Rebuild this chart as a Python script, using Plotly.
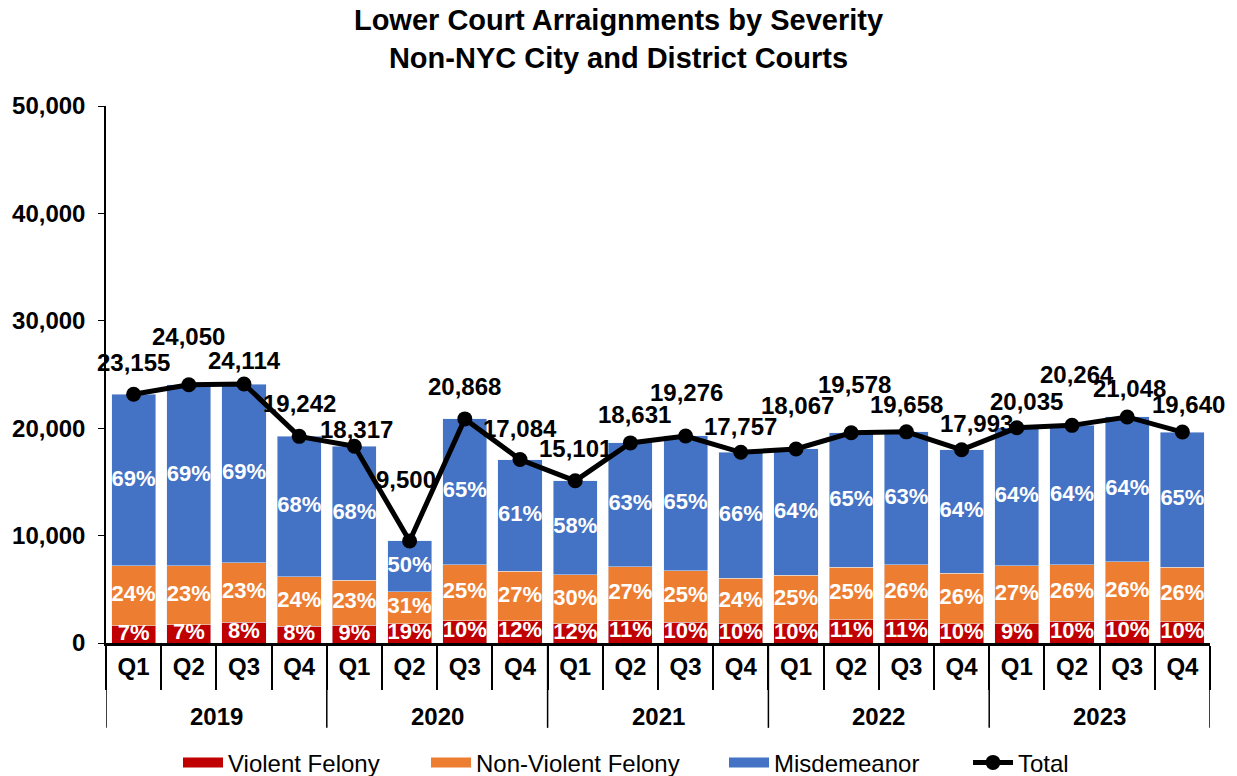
import plotly.graph_objects as go

# ---------------- data ----------------
years = ["2019"] * 4 + ["2020"] * 4 + ["2021"] * 4 + ["2022"] * 4 + ["2023"] * 4
quarters = ["Q1", "Q2", "Q3", "Q4"] * 5
totals = [23155, 24050, 24114, 19242, 18317, 9500, 20868, 17084,
          15101, 18631, 19276, 17757, 18067, 19578, 19658, 17993,
          20035, 20264, 21048, 19640]
violent_pct = [7, 7, 8, 8, 9, 19, 10, 12, 12, 11, 10, 10, 10, 11, 11, 10, 9, 10, 10, 10]
nonviolent_pct = [24, 23, 23, 24, 23, 31, 25, 27, 30, 27, 25, 24, 25, 25, 26, 26, 27, 26, 26, 26]
misd_pct = [69, 69, 69, 68, 68, 50, 65, 61, 58, 63, 65, 66, 64, 65, 63, 64, 64, 64, 64, 65]

# label placement (pixel offsets of the total labels, style only)
label_dx = [0, 0, 0, 0, 2, -4, 0, 0, 0, 4, 1, 0, 1, 3, 0, 15, 10, 5, 2, 6]
label_dy = [32, 48, 24, 33, 17, 61, 32, 31, 32, 28, 43, 26, 43, 48, 27, 26, 26, 51, 28, 28]

# legend entry left edges in pixels (style only)
legend_left_px = [178, 426, 724, 968]

# derived segment counts
violent = [t * p / 100 for t, p in zip(totals, violent_pct)]
nonviolent = [t * p / 100 for t, p in zip(totals, nonviolent_pct)]
misd = [t - v - n for t, v, n in zip(totals, violent, nonviolent)]

keys = [f"{y} {q}" for y, q in zip(years, quarters)]
year_names = list(dict.fromkeys(years))

W, H = 1237, 776
FONT = "Liberation Sans, Arial, sans-serif"
RED, ORANGE, BLUE = "#C00000", "#ED7D31", "#4472C4"
series = [("Violent Felony", violent, RED),
          ("Non-Violent Felony", nonviolent, ORANGE),
          ("Misdemeanor", misd, BLUE)]
legend_ids = ["legend", "legend2", "legend3", "legend4"]

fig = go.Figure()
for name, vals, col in series:
    fig.add_trace(go.Bar(x=keys, y=vals, name=name, marker_color=col,
                         showlegend=False, legendgroup=name))

# percentage labels centred in each segment
mid_v = [v / 2 for v in violent]
mid_n = [v + n / 2 for v, n in zip(violent, nonviolent)]
mid_m = [v + n + m / 2 for v, n, m in zip(violent, nonviolent, misd)]
for mids, pcts in [(mid_v, violent_pct), (mid_n, nonviolent_pct), (mid_m, misd_pct)]:
    fig.add_trace(go.Scatter(
        x=keys, y=mids, mode="text", text=[f"{p}%" for p in pcts],
        textposition="middle center",
        textfont=dict(family=FONT, size=22, color="white", weight="bold"),
        showlegend=False, hoverinfo="skip", cliponaxis=True))

# legend entries drawn as wide colour swatches (like the original)
for (name, vals, col), lid in zip(series, legend_ids):
    fig.add_trace(go.Scatter(x=[None], y=[None], mode="lines", name=name,
                             legendgroup=name, legend=lid,
                             line=dict(color=col, width=14)))

fig.add_trace(go.Scatter(
    x=keys, y=totals, name="Total", mode="lines+markers", legend=legend_ids[3],
    line=dict(color="black", width=5),
    marker=dict(color="black", size=15)))

for i, t in enumerate(totals):
    fig.add_annotation(
        x=i, y=t, xref="x", yref="y", text=f"{t:,}", showarrow=False,
        xshift=label_dx[i], yshift=label_dy[i], yanchor="middle", xanchor="center",
        font=dict(family=FONT, size=24, color="black", weight="bold"))

# year group labels and dividers of the two-level category axis
group_edges = [-0.5]
for yname in year_names:
    idx = [i for i, y in enumerate(years) if y == yname]
    fig.add_annotation(
        x=sum(idx) / len(idx), y=-0.136, xref="x", yref="paper",
        text=yname, showarrow=False, yanchor="middle", xanchor="center",
        font=dict(family=FONT, size=24, color="black", weight="bold"))
    group_edges.append(max(idx) + 0.5)
for e in group_edges:
    fig.add_shape(type="line", x0=e, x1=e, y0=0, y1=-0.158,
                  xref="x", yref="paper", line=dict(color="black", width=1.5))

legend_common = dict(
    orientation="h", xref="container", yref="container",
    xanchor="left", y=0.017, yanchor="middle",
    font=dict(family=FONT, size=24, color="black"),
    itemwidth=40, bgcolor="rgba(0,0,0,0)")

fig.update_layout(
    width=W, height=H,
    barmode="stack", bargap=0.2,
    plot_bgcolor="white", paper_bgcolor="white",
    margin=dict(l=106, r=27, t=106, b=133),
    title=dict(
        text="Lower Court Arraignments by Severity<br>Non-NYC City and District Courts",
        x=0.5, xanchor="center", y=0.961, yanchor="top",
        font=dict(family=FONT, size=29, color="black", weight="bold")),
    font=dict(family=FONT, color="black"),
    showlegend=True,
)
for lid, px in zip(legend_ids, legend_left_px):
    fig.update_layout({lid: dict(legend_common, x=px / W)})

fig.update_yaxes(
    range=[0, 50000], dtick=10000, tickformat=",d",
    showgrid=False, zeroline=False, automargin=False,
    showline=True, linecolor="black", linewidth=1.5,
    ticks="outside", ticklen=6, tickcolor="black", ticklabelstandoff=8,
    tickfont=dict(family=FONT, size=24, color="black", weight="bold"))

fig.update_xaxes(
    type="category", range=[-0.5, len(keys) - 0.5], automargin=False,
    tickvals=keys, ticktext=quarters,
    showline=True, linecolor="black", linewidth=2.5,
    ticks="outside", tickson="boundaries", ticklen=44, tickcolor="black", tickwidth=1.5,
    tickfont=dict(family=FONT, size=24, color="black", weight="bold"))

fig.write_html("out.html", config={"displayModeBar": False},
               post_script="document.body.style.margin='0';")
